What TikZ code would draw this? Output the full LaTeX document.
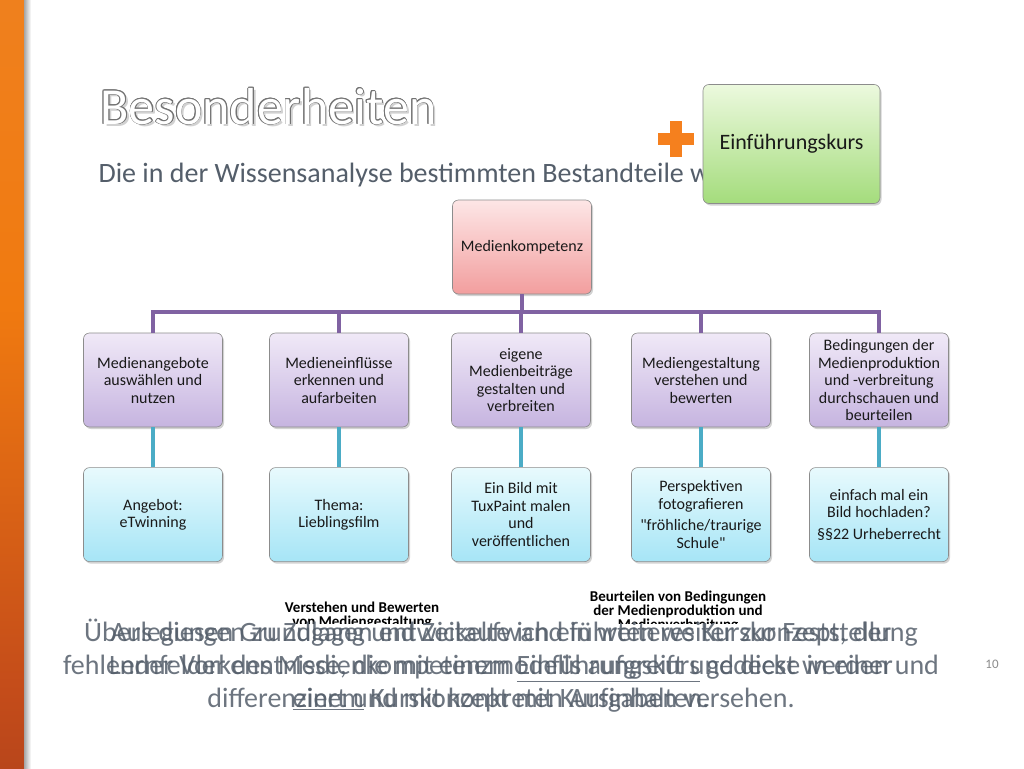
\documentclass[tikz,border=0pt]{standalone}
\usepackage{fontspec}
\setmainfont{Carlito}
\usetikzlibrary{positioning,shadows,calc}

\definecolor{slate}{RGB}{84,94,106}
\definecolor{pinktop}{RGB}{253,230,230}
\definecolor{pinkbot}{RGB}{242,158,158}
\definecolor{lilatop}{RGB}{240,233,247}
\definecolor{lilabot}{RGB}{198,180,224}
\definecolor{cyantop}{RGB}{232,250,253}
\definecolor{cyanbot}{RGB}{166,229,246}
\definecolor{greentop}{RGB}{236,249,222}
\definecolor{greenbot}{RGB}{164,220,124}
\definecolor{buspurple}{RGB}{128,98,162}
\definecolor{stemteal}{RGB}{75,172,198}
\definecolor{plusorange}{RGB}{245,128,30}
\definecolor{bartop}{RGB}{236,160,100}
\definecolor{barmid}{RGB}{240,122,16}
\definecolor{barlow}{RGB}{196,76,26}
\definecolor{barbot}{RGB}{128,40,32}

\pgfdeclareverticalshading{barshade}{100bp}{color(0bp)=(barbot); color(30bp)=(barlow); color(55bp)=(barmid); color(80bp)=(barmid!80!bartop); color(100bp)=(bartop)}

\newcommand{\boxfont}{\fontsize{16}{17.5}\selectfont}
\newcommand{\kursfont}{\fontsize{22}{26}\selectfont}
\newcommand{\titlefont}{\fontsize{52}{60}\selectfont}
\newcommand{\subfont}{\fontsize{28}{32}\selectfont}
\newcommand{\bodyfont}{\fontsize{28}{33}\selectfont}
\newcommand{\labelfont}{\fontsize{15}{14}\selectfont\bfseries}

\tikzset{
  orgbox/.style={draw=black!45, line width=0.6pt, rounded corners=6pt,
    minimum width=139pt, minimum height=94pt, align=center, inner sep=3pt,
    text=black!90, font=\boxfont,
    drop shadow={shadow xshift=1.5pt, shadow yshift=-2pt, opacity=0.35}},
  topbox/.style={orgbox, top color=pinktop, bottom color=pinkbot},
  compbox/.style={orgbox, top color=lilatop, bottom color=lilabot},
  examplebox/.style={orgbox, top color=cyantop, bottom color=cyanbot},
  kursbox/.style={orgbox, top color=greentop, bottom color=greenbot,
    minimum width=177pt, minimum height=119pt, font=\kursfont},
  bus/.style={draw=buspurple, line width=4pt},
  stem/.style={draw=stemteal, line width=4pt},
  layer/.style={font=\bodyfont, text=slate, text opacity=0.85, align=center, anchor=north}
}

\begin{document}
\begin{tikzpicture}[x=1pt,y=-1pt]
  \useasboundingbox (0,0) rectangle (1024,768);
  \fill[white] (0,0) rectangle (1024,768);

  % side bar
  \shade[shading=barshade] (0,0) rectangle (24,768);
  \shade[left color=black!35, right color=white] (24,0) rectangle (31,768);

  % title
  \node[font=\titlefont, text=black!18, anchor=base west] at (99.5,126.5) {Besonderheiten};
  \foreach \a in {0,30,...,330}
    \node[font=\titlefont, text=black!55, anchor=base west] at ($(97,124)+(\a:0.8pt)$) {Besonderheiten};
  \node[font=\titlefont, text=white, anchor=base west] (title) at (97,124) {Besonderheiten};
  \node[font=\subfont, text=slate, anchor=base west] (sub) at (95,182) {Die in der Wissensanalyse bestimmten Bestandteile wurden};

  % plus and course box
  \fill[plusorange] (658,133) rectangle (694,145);
  \fill[plusorange] (670,121) rectangle (682,157);
  \node[kursbox] (kurs) at (791.5,144) {Einführungskurs};

  % row 1
  \node[topbox] (top) at (522,247) {Medienkompetenz};
  % row 2
  \node[compbox] (ausw) at (153,380) {Medienangebote\\auswählen und\\nutzen};
  \node[compbox] (einfl) at (339,380) {Medieneinflüsse\\erkennen und\\aufarbeiten};
  \node[compbox] (eigen) at (521,380) {eigene\\Medienbeiträge\\gestalten und\\verbreiten};
  \node[compbox] (gest) at (701,380) {Mediengestaltung\\verstehen und\\bewerten};
  \node[compbox] (bed) at (879,380) {Bedingungen der\\Medienproduktion\\und -verbreitung\\durchschauen und\\beurteilen};
  % row 3
  \node[examplebox, below=40pt of ausw] (twin) {Angebot:\\eTwinning};
  \node[examplebox, below=40pt of einfl] (film) {Thema:\\Lieblingsfilm};
  \node[examplebox, below=40pt of eigen] (tux) {Ein Bild mit\\TuxPaint malen\\und\\veröffentlichen};
  \node[examplebox, below=40pt of gest] (foto) {Perspektiven\\fotografieren\\[4pt]\textquotedbl fröhliche/traurige\\Schule\textquotedbl};
  \node[examplebox, below=40pt of bed] (urh) {einfach mal ein\\Bild hochladen?\\[4pt]§§22 Urheberrecht};

  % links
  \coordinate (busl) at (153,312);
  \coordinate (busr) at (879,312);
  \draw[bus] ([xshift=-2pt]busl) -- ([xshift=2pt]busr);
  \draw[bus] (top) -- (top |- busl);
  \draw[bus] (ausw) -- (ausw |- busl);
  \draw[bus] (einfl) -- (einfl |- busl);
  \draw[bus] (eigen) -- (eigen |- busl);
  \draw[bus] (gest) -- (gest |- busl);
  \draw[bus] (bed) -- (bed |- busl);
  \draw[stem] (ausw) -- (twin);
  \draw[stem] (einfl) -- (film);
  \draw[stem] (eigen) -- (tux);
  \draw[stem] (gest) -- (foto);
  \draw[stem] (bed) -- (urh);

  % small labels
  \node[font=\labelfont, align=center] (lblgest) at (362,615) {Verstehen und Bewerten\\von Mediengestaltung};
  \node[font=\labelfont, align=center] (lblbed) at (678,611) {Beurteilen von Bedingungen\\der Medienproduktion und\\Medienverbreitung};
  \fill[white] (70,624) rectangle (945,728);

  % text layers
  \node[layer] (layA) at (501,616) {Überlegungen zu Zugang und Zeitaufwand führten weiter zur Feststellung\\fehlender Vorkenntnisse, die mit einem \underline{Einführungskurs} gedeckt werden und\\differenziert und mit konkreten Aufgaben versehen.};
  \node[layer] (layB) at (501,616) {\vphantom{Ü}Aus diesen Grundlagen entwickelte ich ein weiteres Kurskonzept, der\\Lernfelder des Medienkompetenzmodells aufgreift und diese in einer\\\underline{einem} Kurskonzept mit Kursinhalten.};
  \node[font=\fontsize{13}{13}\selectfont, text=black!45] (pnum) at (992,664) {10};
\end{tikzpicture}
\end{document}
